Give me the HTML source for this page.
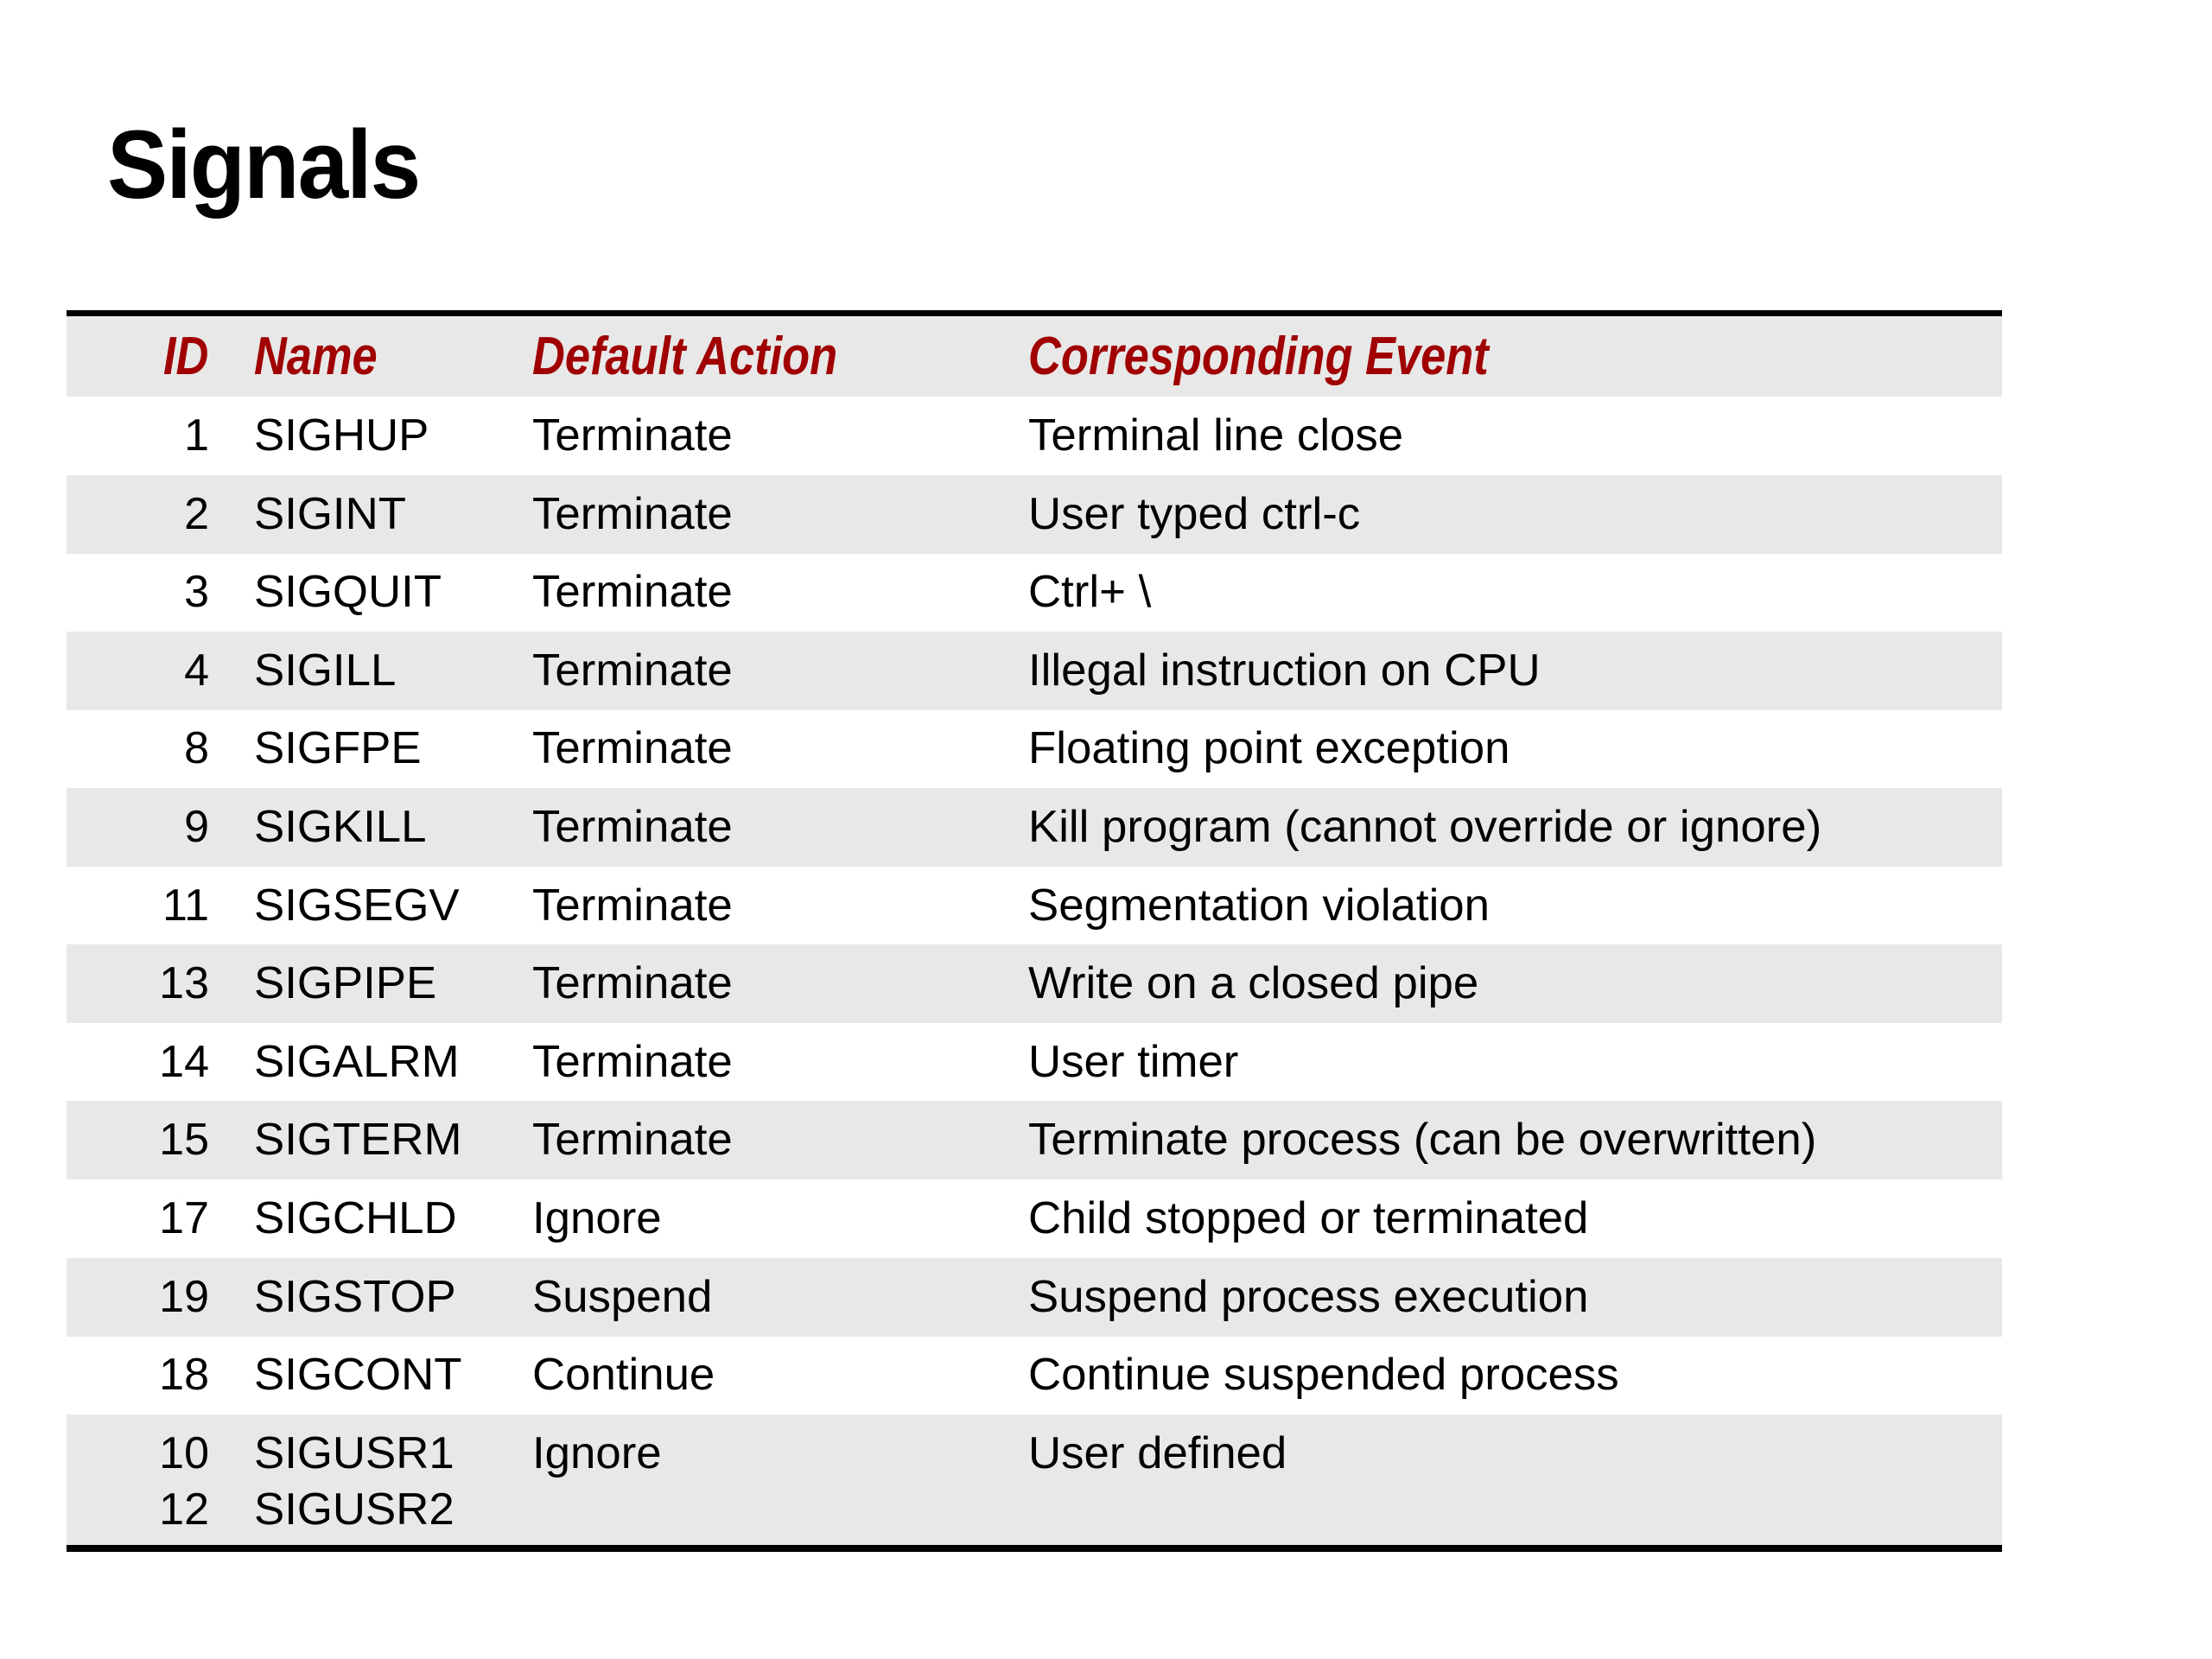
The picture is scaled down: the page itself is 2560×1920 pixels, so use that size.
<!DOCTYPE html>
<html><head><meta charset="utf-8"><style>
html,body{margin:0;padding:0;background:#fff;}
body{width:2560px;height:1920px;position:relative;overflow:hidden;font-family:"Liberation Sans",sans-serif;}
.t{position:absolute;left:124px;top:126px;font-size:112px;font-weight:bold;color:#000;letter-spacing:-2px;transform:scaleX(0.94);transform-origin:left top;}
.line{position:absolute;left:77px;width:2240px;background:#000;}
.row{position:absolute;left:77px;width:2240px;height:91px;}
.g{background:#e8e8e8;}
.c{position:absolute;top:0;height:91px;line-height:91px;font-size:52px;color:#000;white-space:nowrap;transform:scaleX(1.015);transform-origin:left center;}
.id{width:165px;text-align:right;left:0;transform:none;}
.h{position:absolute;top:0;height:93px;line-height:93px;font-size:62px;font-weight:bold;font-style:italic;color:#a00000;transform:scaleX(0.845);transform-origin:left center;white-space:nowrap;}
</style></head><body>
<div class="t">Signals</div>
<div class="line" style="top:359px;height:7px"></div>
<div class="row g" style="top:366px;height:93px">
<div class="h" style="left:112px">ID</div>
<div class="h" style="left:217px">Name</div>
<div class="h" style="left:539px">Default Action</div>
<div class="h" style="left:1113px">Corresponding Event</div>
</div>
<div id="rows"></div>
<div class="line" style="top:1788px;height:8px"></div>
<script>
var d=[["1","SIGHUP","Terminate","Terminal line close"],["2","SIGINT","Terminate","User typed ctrl-c"],["3","SIGQUIT","Terminate","Ctrl+ \\"],["4","SIGILL","Terminate","Illegal instruction on CPU"],["8","SIGFPE","Terminate","Floating point exception"],["9","SIGKILL","Terminate","Kill program (cannot override or ignore)"],["11","SIGSEGV","Terminate","Segmentation violation"],["13","SIGPIPE","Terminate","Write on a closed pipe"],["14","SIGALRM","Terminate","User timer"],["15","SIGTERM","Terminate","Terminate process (can be overwritten)"],["17","SIGCHLD","Ignore","Child stopped or terminated"],["19","SIGSTOP","Suspend","Suspend process execution"],["18","SIGCONT","Continue","Continue suspended process"]];
var h="";
for(var i=0;i<d.length;i++){var y=459+i*90.6;
h+='<div class="row'+(i%2?' g':'')+'" style="top:'+y+'px"><div class="c id">'+d[i][0]+'</div><div class="c" style="left:217px">'+d[i][1]+'</div><div class="c" style="left:539px">'+d[i][2]+'</div><div class="c" style="left:1113px">'+d[i][3]+'</div></div>';}
h+='<div class="row g" style="top:1637px;height:151px"><div class="c id" style="top:0px">10</div><div class="c" style="left:217px;top:0px">SIGUSR1</div><div class="c" style="left:539px;top:0px">Ignore</div><div class="c" style="left:1113px;top:0px">User defined</div><div class="c id" style="top:65px">12</div><div class="c" style="left:217px;top:65px">SIGUSR2</div></div>';
document.getElementById("rows").innerHTML=h;
</script>
</body></html>
